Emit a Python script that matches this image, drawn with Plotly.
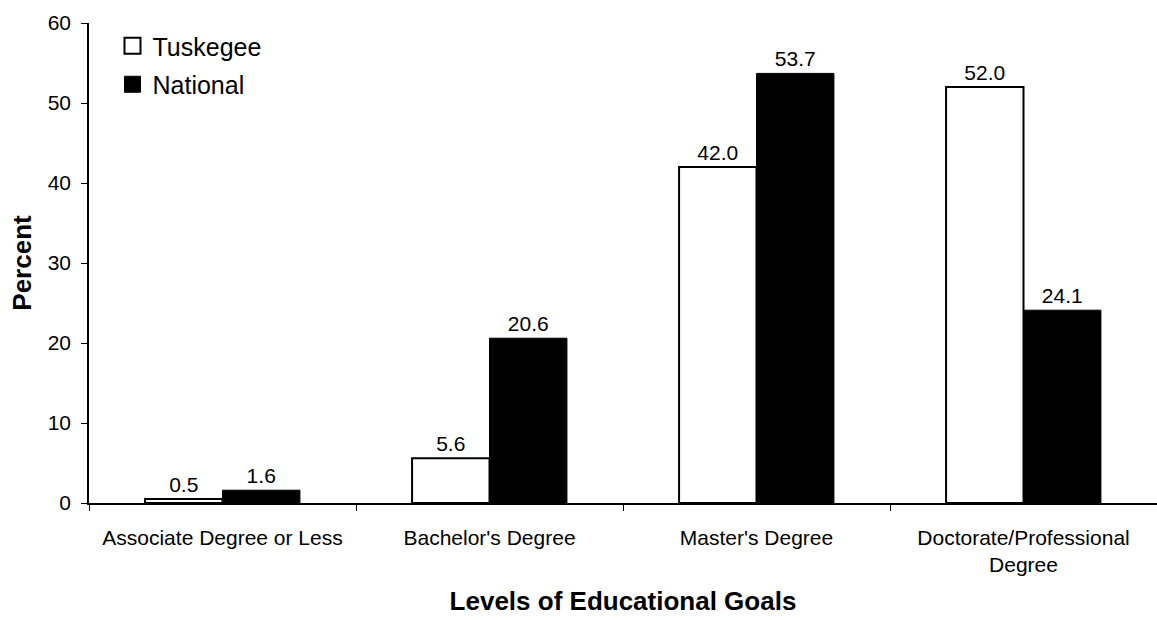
import plotly.graph_objects as go

categories = ["Associate Degree or Less", "Bachelor's Degree", "Master's Degree",
              "Doctorate/Professional<br>Degree"]
tuskegee = [0.5, 5.6, 42.0, 52.0]
national = [1.6, 20.6, 53.7, 24.1]
y_ticks = [0, 10, 20, 30, 40, 50, 60]

FONT = "Liberation Sans, Arial, sans-serif"

fig = go.Figure()
fig.add_trace(go.Bar(
    x=categories, y=tuskegee, name="Tuskegee",
    marker=dict(color="white", line=dict(color="black", width=2)),
    text=[f"{v:.1f}" for v in tuskegee], textposition="outside",
    textfont=dict(size=21, color="black", family=FONT),
    cliponaxis=False, showlegend=False,
))
fig.add_trace(go.Bar(
    x=categories, y=national, name="National",
    marker=dict(color="black", line=dict(color="black", width=1)),
    text=[f"{v:.1f}" for v in national], textposition="outside",
    textfont=dict(size=21, color="black", family=FONT),
    cliponaxis=False, showlegend=False,
))
# legend entries
fig.add_trace(go.Scatter(
    x=[None], y=[None], mode="markers", name="Tuskegee", legendgroup="a",
    marker=dict(symbol="square", size=18, color="white", line=dict(color="black", width=2)),
))
fig.add_trace(go.Scatter(
    x=[None], y=[None], mode="markers", name="National", legendgroup="b",
    marker=dict(symbol="square", size=18, color="black", line=dict(color="black", width=1)),
))

fig.update_layout(
    width=1157, height=620,
    margin=dict(l=89, r=0, t=23, b=117),
    paper_bgcolor="white", plot_bgcolor="white",
    font=dict(family=FONT, size=21, color="black"),
    barmode="group", bargap=0.42, bargroupgap=0,
    showlegend=True,
    legend=dict(x=0.022, y=1.0, xanchor="left", yanchor="top",
                font=dict(size=25, family=FONT), bgcolor="rgba(0,0,0,0)",
                tracegroupgap=3, itemwidth=30),
)
fig.update_xaxes(
    type="category", showline=True, linecolor="black", linewidth=1.5,
    ticks="outside", tickson="boundaries", ticklen=6, tickcolor="black",
    showgrid=False, tickfont=dict(size=21), ticklabelstandoff=15,
    title=dict(text="<b>Levels of Educational Goals</b>", font=dict(size=26), standoff=17),
)
fig.update_yaxes(
    range=[0, 60], tickvals=y_ticks, showline=True, linecolor="black", linewidth=1.5,
    ticks="outside", ticklen=6, tickcolor="black", showgrid=False, zeroline=False,
    tickfont=dict(size=21), ticklabelstandoff=6,
    title=dict(text="<b>Percent</b>", font=dict(size=26), standoff=9),
)

fig.write_html("out.html")
